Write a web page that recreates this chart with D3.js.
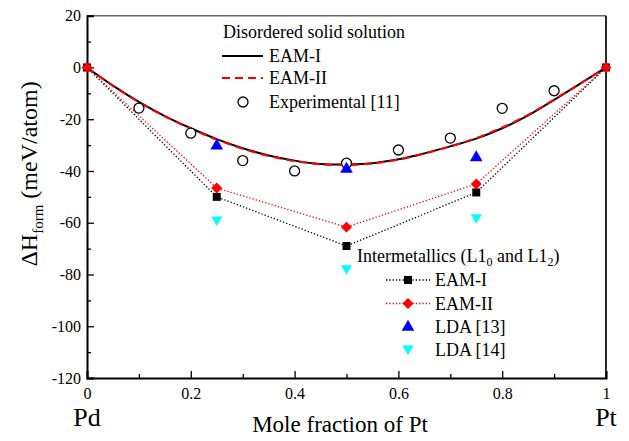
<!DOCTYPE html>
<html>
<head>
<meta charset="UTF-8">
<script src="https://d3js.org/d3.v7.min.js"></script>
<style>
  html, body { margin: 0; padding: 0; background: #fff; }
  svg { display: block; }
  svg text { font-family: "Liberation Serif", Tinos, "DejaVu Serif", serif; }
</style>
</head>
<body>
<svg width="629" height="441"></svg>
<script>
  // disordered solid solution curves
  const curveX = [0, 0.05, 0.1, 0.15, 0.2, 0.25, 0.3, 0.35, 0.4, 0.45, 0.5, 0.55, 0.6, 0.65, 0.7, 0.75, 0.8, 0.85, 0.9, 0.95, 1];
  const eam1Curve = [0, -7, -13.3, -18.8, -23.5, -27.7, -31.2, -34, -36, -37.3, -37.5, -37, -35.5, -33.2, -30.5, -27.5, -23.5, -18.5, -12.5, -6.3, 0];
  const eam2Curve = [0, -7.1, -13.4, -18.9, -23.6, -27.9, -31.4, -34.2, -36.2, -37.4, -37.6, -37.1, -35.6, -33.3, -30.5, -27.3, -23.2, -18.3, -12.4, -6.3, 0];
  const expX = [0.1, 0.2, 0.3, 0.4, 0.5, 0.6, 0.7, 0.8, 0.9];
  const expY = [-15.7, -25.4, -36, -40, -37, -31.9, -27.3, -15.8, -9];

  // intermetallics
  const interX = [0, 0.25, 0.5, 0.75, 1];
  const interEam1 = [0, -50, -69, -48.3, 0];
  const interEam2 = [0, -46.6, -61.7, -45, 0];
  const ldaX = [0.25, 0.5, 0.75];
  const lda13 = [-30.3, -39.3, -34.8];
  const lda14 = [-59.3, -78.2, -58.5];

  const xTicks = [0, 0.2, 0.4, 0.6, 0.8, 1];
  const xMinor = [0.1, 0.3, 0.5, 0.7, 0.9];
  const yTicks = [20, 0, -20, -40, -60, -80, -100, -120];
  const yMinor = [10, -10, -30, -50, -70, -90, -110];

  const svg = d3.select("svg");
  const x = d3.scaleLinear().domain([0, 1]).range([87, 606]);
  const y = d3.scaleLinear().domain([-120, 20]).range([378, 15.7]);

  // frame
  svg.append("line").attr("x1", x(0)).attr("x2", x(1)).attr("y1", y(20)).attr("y2", y(20))
    .attr("stroke", "#666").attr("stroke-width", 1.5);
  svg.append("line").attr("x1", x(1)).attr("x2", x(1)).attr("y1", y(20)).attr("y2", y(-120))
    .attr("stroke", "#111").attr("stroke-width", 1.8);

  // axes with inward ticks
  const xAxis = svg.append("g").attr("transform", `translate(0,${y(-120)})`)
    .call(d3.axisBottom(x).tickValues(xTicks).tickSize(-7).tickFormat(d => String(d)));
  xAxis.append("g").call(d3.axisBottom(x).tickValues(xMinor).tickSize(-4).tickFormat(""));
  const yAxis = svg.append("g").attr("transform", `translate(${x(0)},0)`)
    .call(d3.axisLeft(y).tickValues(yTicks).tickSize(-7).tickFormat(d => String(d)));
  yAxis.append("g").call(d3.axisLeft(y).tickValues(yMinor).tickSize(-4).tickFormat(""));
  xAxis.selectAll(":scope > g > .domain").remove();
  yAxis.selectAll(":scope > g > .domain").remove();
  svg.selectAll(".domain").attr("stroke", "#000").attr("stroke-width", 2);
  svg.selectAll(".tick line").attr("stroke", "#000").attr("stroke-width", 1.3);
  svg.selectAll("g").attr("font-family", null);
  svg.selectAll(".tick text").attr("font-size", 16).attr("fill", "#000");
  xAxis.selectAll(".tick text").attr("y", 10).attr("dy", "0.71em");
  yAxis.selectAll(".tick text").attr("x", -6);

  // axis titles
  svg.append("text").attr("x", x(0)).attr("y", 426).attr("text-anchor", "middle")
    .attr("font-size", 26).text("Pd");
  svg.append("text").attr("x", x(1)).attr("y", 426).attr("text-anchor", "middle")
    .attr("font-size", 26).text("Pt");
  svg.append("text").attr("x", 340).attr("y", 432).attr("text-anchor", "middle")
    .attr("font-size", 23).text("Mole fraction of Pt");
  const yl = svg.append("text").attr("transform", "translate(37,174) rotate(-90)")
    .attr("text-anchor", "middle").attr("font-size", 24);
  yl.append("tspan").text("ΔH");
  yl.append("tspan").attr("font-size", 15).attr("dy", 6).text("form");
  yl.append("tspan").attr("dy", -6).text(" (meV/atom)");

  // series
  const pts = (xs, ys) => xs.map((v, i) => [v, ys[i]]);
  const smooth = d3.line().x(d => x(d[0])).y(d => y(d[1])).curve(d3.curveCatmullRom);
  const straight = d3.line().x(d => x(d[0])).y(d => y(d[1]));

  svg.append("path").attr("d", straight(pts(interX, interEam1))).attr("fill", "none")
    .attr("stroke", "#000").attr("stroke-width", 1.3).attr("stroke-dasharray", "1.3,2");
  svg.append("path").attr("d", straight(pts(interX, interEam2))).attr("fill", "none")
    .attr("stroke", "#f00").attr("stroke-width", 1.3).attr("stroke-dasharray", "1.3,2");

  svg.append("path").attr("d", smooth(pts(curveX, eam1Curve))).attr("fill", "none")
    .attr("stroke", "#000").attr("stroke-width", 2);
  svg.append("path").attr("d", smooth(pts(curveX, eam2Curve))).attr("fill", "none")
    .attr("stroke", "#f00").attr("stroke-width", 2).attr("stroke-dasharray", "8,5");

  const sym = (type, size) => d3.symbol().type(type).size(size)();
  const downTri = "M-5.5,-4.5L5.5,-4.5L0,5z";

  svg.selectAll("circle.exp").data(pts(expX, expY)).enter().append("circle")
    .attr("cx", d => x(d[0])).attr("cy", d => y(d[1])).attr("r", 5)
    .attr("fill", "#fff").attr("stroke", "#000").attr("stroke-width", 1.3);

  svg.selectAll("path.sq").data(pts(interX, interEam1)).enter().append("path")
    .attr("transform", d => `translate(${x(d[0])},${y(d[1])})`)
    .attr("d", sym(d3.symbolSquare, 64)).attr("fill", "#000");
  svg.selectAll("path.dia").data(pts(interX, interEam2)).enter().append("path")
    .attr("transform", d => `translate(${x(d[0])},${y(d[1])}) rotate(45)`)
    .attr("d", sym(d3.symbolSquare, 60)).attr("fill", "#f00");
  svg.selectAll("path.up").data(pts(ldaX, lda13)).enter().append("path")
    .attr("transform", d => `translate(${x(d[0])},${y(d[1])})`)
    .attr("d", sym(d3.symbolTriangle, 70)).attr("fill", "#00f");
  svg.selectAll("path.down").data(pts(ldaX, lda14)).enter().append("path")
    .attr("transform", d => `translate(${x(d[0])},${y(d[1])})`)
    .attr("d", downTri).attr("fill", "#0ff");

  // legend: disordered solid solution
  const leg1 = svg.append("g").attr("font-size", 18);
  leg1.append("text").attr("x", 223).attr("y", 38).text("Disordered solid solution");
  leg1.append("line").attr("x1", 222).attr("x2", 263).attr("y1", 56).attr("y2", 56)
    .attr("stroke", "#000").attr("stroke-width", 2);
  leg1.append("text").attr("x", 269).attr("y", 62).text("EAM-I");
  leg1.append("line").attr("x1", 222).attr("x2", 263).attr("y1", 78).attr("y2", 78)
    .attr("stroke", "#f00").attr("stroke-width", 2).attr("stroke-dasharray", "8,5");
  leg1.append("text").attr("x", 269).attr("y", 84).text("EAM-II");
  leg1.append("circle").attr("cx", 243).attr("cy", 102).attr("r", 5)
    .attr("fill", "#fff").attr("stroke", "#000").attr("stroke-width", 1.3);
  leg1.append("text").attr("x", 269).attr("y", 108).text("Experimental [11]");

  // legend: intermetallics
  const leg2 = svg.append("g").attr("font-size", 18);
  const t2 = leg2.append("text").attr("x", 357).attr("y", 262);
  t2.append("tspan").text("Intermetallics (L1");
  t2.append("tspan").attr("font-size", 12).attr("dy", 4).text("0");
  t2.append("tspan").attr("dy", -4).text(" and L1");
  t2.append("tspan").attr("font-size", 12).attr("dy", 4).text("2");
  t2.append("tspan").attr("dy", -4).text(")");
  const rows = [280, 303.5, 327, 350];
  leg2.append("line").attr("x1", 386).attr("x2", 430).attr("y1", rows[0]).attr("y2", rows[0])
    .attr("stroke", "#000").attr("stroke-width", 1.3).attr("stroke-dasharray", "1.3,2");
  leg2.append("path").attr("transform", `translate(408,${rows[0]})`).attr("d", sym(d3.symbolSquare, 64));
  leg2.append("text").attr("x", 435).attr("y", rows[0] + 6).text("EAM-I");
  leg2.append("line").attr("x1", 386).attr("x2", 430).attr("y1", rows[1]).attr("y2", rows[1])
    .attr("stroke", "#f00").attr("stroke-width", 1.3).attr("stroke-dasharray", "1.3,2");
  leg2.append("path").attr("transform", `translate(408,${rows[1]}) rotate(45)`)
    .attr("d", sym(d3.symbolSquare, 60)).attr("fill", "#f00");
  leg2.append("text").attr("x", 435).attr("y", rows[1] + 6).text("EAM-II");
  leg2.append("path").attr("transform", `translate(408,${rows[2]})`)
    .attr("d", sym(d3.symbolTriangle, 70)).attr("fill", "#00f");
  leg2.append("text").attr("x", 435).attr("y", rows[2] + 6).text("LDA [13]");
  leg2.append("path").attr("transform", `translate(408,${rows[3]})`)
    .attr("d", downTri).attr("fill", "#0ff");
  leg2.append("text").attr("x", 435).attr("y", rows[3] + 6).text("LDA [14]");
</script>
</body>
</html>
